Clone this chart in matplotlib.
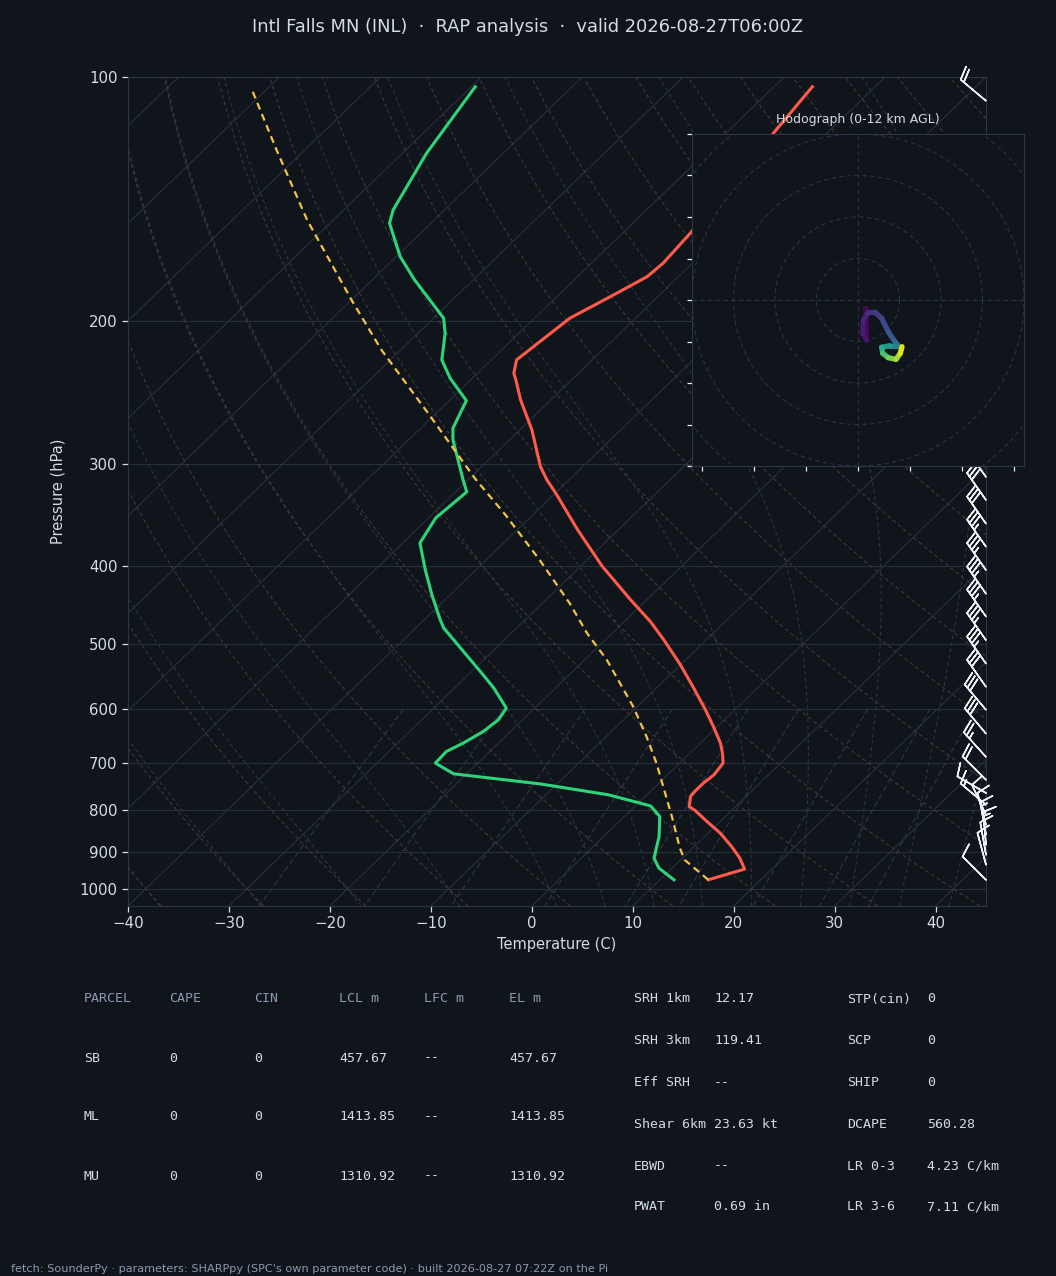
import numpy as np
import matplotlib
matplotlib.use("Agg")
import matplotlib.pyplot as plt
import matplotlib.transforms as mtransforms
from matplotlib.collections import LineCollection
from matplotlib.ticker import NullLocator

# colours
BG = "#10151c"
GRID = "#26303b"
SPINE = "#2c3643"
TXT = "#d5dbe2"
DIM = "#8b9ab0"

# sounding (hPa, degC)
t_pres = [974.8, 945.7, 916.6, 887.0, 853.9, 826.3, 800.9, 791.9, 769.7, 761.0,
          741.0, 723.7, 700.1, 681.9, 661.6, 631.2, 602.0, 565.9, 529.8, 493.6,
          468.7, 440.6, 400.3, 361.4, 325.3, 313.5, 301.9, 272.1, 249.9, 236.2,
          231.7, 223.1, 198.2, 186.5, 176.2, 169.6, 155.1, 117.3, 102.8]
t_temp = [14.8, 17.3, 15.7, 13.7, 11.2, 8.7, 6.4, 5.4, 4.5, 4.4,
          4.4, 4.6, 4.3, 3.3, 2.0, -0.4, -2.9, -6.3, -10.0, -14.2,
          -17.4, -21.6, -27.9, -34.0, -40.0, -42.2, -44.2, -48.8, -53.0, -55.5,
          -56.4, -57.5, -56.5, -54.7, -53.1, -52.9, -53.3, -55.3, -56.2]

td_pres = [974.8, 942.9, 916.6, 862.5, 814.5, 790.4, 766.0, 742.6, 721.7, 700.1,
           677.5, 661.6, 640.2, 619.4, 599.1, 565.9, 545.2, 477.5, 466.4, 434.4,
           404.8, 375.0, 349.2, 324.4, 313.5, 279.9, 270.8, 250.4, 235.0, 223.1,
           206.9, 198.2, 177.8, 166.5, 151.4, 145.8, 124.2, 102.8]
td_dwpt = [11.4, 8.7, 7.2, 5.5, 3.5, 1.5, -3.8, -11.7, -21.3, -24.2,
           -24.3, -23.5, -22.7, -22.4, -22.8, -26.1, -28.5, -37.2, -38.4, -41.8,
           -45.0, -48.3, -49.3, -48.9, -50.5, -55.6, -56.8, -58.3, -62.2, -64.9,
           -67.3, -69.0, -75.8, -79.6, -84.1, -85.1, -87.6, -89.6]

parcel_pres = [974.8, 921.0, 890.3, 814.5, 700.1, 649.4, 596.4, 522.4, 484.3, 444.8,
               393.5, 346.3, 312.1, 259.5, 216.9, 188.2, 150.0, 123.0, 103.3]
parcel_temp = [14.8, 10.4, 8.7, 4.7, -2.3, -6.0, -10.4, -17.8, -22.5, -27.3,
               -34.7, -42.7, -49.5, -60.8, -71.9, -80.0, -92.6, -102.8, -111.6]

# wind barbs (hPa, deg, kt)
barb_pres = [107, 311, 332, 355, 379, 405, 433, 462, 494, 528, 564, 602,
             644, 688, 734, 762, 788, 811, 834, 858, 883, 908, 934, 975]
barb_dir = [310, 325, 325, 325, 325, 325, 325, 325, 325, 325, 325, 320,
            320, 318, 315, 300, 310, 335, 345, 350, 355, 350, 345, 315]
barb_spd = [20, 30, 30, 32, 33, 33, 35, 35, 33, 33, 32, 30,
            28, 25, 20, 10, 15, 12, 12, 13, 13, 12, 10, 10]

# hodograph trace (kt) and height (km AGL)
hodo_u = [3.7, 4.2, 2.3, 2.6, 5.0, 8.2, 11.4, 14.6, 17.8, 19.4, 15.4, 11.4, 11.9, 14.6, 18.3, 20.4, 21.2]
hodo_v = [-4.0, -19.3, -16.0, -9.6, -5.9, -5.9, -8.8, -15.3, -20.1, -22.0, -22.0, -22.8, -25.7, -27.8, -28.6, -25.7, -22.5]
hodo_z = [0.0, 0.4, 0.7, 1.0, 1.4, 1.8, 2.3, 2.9, 3.6, 4.6, 6.0, 7.0, 8.0, 9.0, 10.0, 11.0, 12.0]

parcel_header = ["PARCEL", "CAPE", "CIN", "LCL m", "LFC m", "EL m"]
parcel_rows = [["SB", "0", "0", "457.67", "--", "457.67"],
               ["ML", "0", "0", "1413.85", "--", "1413.85"],
               ["MU", "0", "0", "1310.92", "--", "1310.92"]]
params_a = [("SRH 1km", "12.17"), ("SRH 3km", "119.41"), ("Eff SRH", "--"),
            ("Shear 6km", "23.63 kt"), ("EBWD", "--"), ("PWAT", "0.69 in")]
params_b = [("STP(cin)", "0"), ("SCP", "0"), ("SHIP", "0"),
            ("DCAPE", "560.28"), ("LR 0-3", "4.23 C/km"), ("LR 3-6", "7.11 C/km")]

title = "Intl Falls MN (INL)  \u00b7  RAP analysis  \u00b7  valid 2026-08-27T06:00Z"
footer = ("fetch: SounderPy \u00b7 parameters: SHARPpy (SPC's own parameter code) \u00b7 "
          "built 2026-08-27 07:22Z on the Pi")

P_BOT, P_TOP = 1050.0, 100.0
T_LEFT, T_RIGHT = -40.0, 45.0


def skew(t, p):
    p = np.asarray(p, float)
    return np.asarray(t, float) + (T_RIGHT - T_LEFT) * np.log(P_BOT / p) / np.log(P_BOT / P_TOP)


def dtdp(p, t):
    Rd, Cp, Lv, eps = 287.04, 1005.7, 2.501e6, 0.622
    es = 6.112 * np.exp(17.67 * (t - 273.15) / (t - 29.65))
    rs = eps * es / (p - es)
    return (Rd * t + Lv * rs) / (Cp + Lv * Lv * rs * eps / (Rd * t * t)) / p


def moist_curve(t0c):
    def run(ps):
        t = t0c + 273.15
        out = [t]
        for a, b in zip(ps[:-1], ps[1:]):
            h = b - a
            k1 = dtdp(a, t)
            k2 = dtdp(a + h / 2, t + h / 2 * k1)
            k3 = dtdp(a + h / 2, t + h / 2 * k2)
            k4 = dtdp(b, t + h * k3)
            t = t + h / 6 * (k1 + 2 * k2 + 2 * k3 + k4)
            out.append(t)
        return np.array(out)
    p_up = np.linspace(1000, 100, 181)
    p_dn = np.linspace(1000, 1050, 11)
    p = np.concatenate([p_dn[::-1], p_up[1:]])
    t = np.concatenate([run(p_dn)[::-1], run(p_up)[1:]]) - 273.15
    return p, t


plt.rcParams["font.family"] = ["DejaVu Sans"]
fig = plt.figure(figsize=(10.56, 12.76), dpi=100, facecolor=BG)

W, H = 1056.0, 1276.0
ax = fig.add_axes([128 / W, 1 - 906 / H, 858 / W, 829 / H], facecolor=BG)
ax.set_yscale("log")
ax.set_ylim(P_BOT, P_TOP)
ax.set_xlim(T_LEFT, T_RIGHT)

# isobars
for p in range(100, 1001, 100):
    ax.axhline(p, color=GRID, lw=0.8, zorder=1)
# isotherms
for t in range(-130, 50, 10):
    ax.plot(skew([t, t], [P_BOT, P_TOP]), [P_BOT, P_TOP], color="#28313c", lw=0.8, zorder=1)
# dry adiabats
pp = np.linspace(P_BOT, P_TOP, 100)
for t0 in np.arange(-40, 246, 10):
    tt = (t0 + 273.15) * (pp / 1000.0) ** 0.2857 - 273.15
    ax.plot(skew(tt, pp), pp, color="#4a3c2e", lw=0.7, ls=(0, (4, 3)), zorder=1)
# moist adiabats
for t0 in list(range(-40, 0, 10)) + list(range(0, 46, 5)):
    mp, mt = moist_curve(t0)
    ax.plot(skew(mt, mp), mp, color="#2d3a40", lw=0.7, ls=(0, (4, 3)), zorder=1)
# mixing ratio lines
pm = np.linspace(600, P_BOT, 30)
for w in [0.0004, 0.001, 0.002, 0.004, 0.007, 0.01, 0.016, 0.024, 0.032]:
    e = pm * w / (0.622 + w)
    lg = np.log(e / 6.112)
    tdm = 243.5 * lg / (17.67 - lg)
    ax.plot(skew(tdm, pm), pm, color="#2a3946", lw=0.8, ls=(0, (5, 3)), zorder=1)

# profiles
ax.plot(skew(t_temp, t_pres), t_pres, color="#ff5a4a", lw=2.2, zorder=4, solid_joinstyle="round")
ax.plot(skew(td_dwpt, td_pres), td_pres, color="#2ed47a", lw=2.2, zorder=4, solid_joinstyle="round")
ax.plot(skew(parcel_temp, parcel_pres), parcel_pres, color="#f2c443", lw=1.6,
        ls=(0, (3.2, 2.2)), zorder=4)

# barbs along the right edge
bd = np.radians(barb_dir)
bu = -np.array(barb_spd) * np.sin(bd)
bv = -np.array(barb_spd) * np.cos(bd)
blend = mtransforms.blended_transform_factory(ax.transAxes, ax.transData)
ax.barbs(np.ones(len(barb_pres)), barb_pres, bu, bv, transform=blend, clip_on=False,
         length=6.9, color="#eef2f6", linewidth=1.1, zorder=3)

ax.set_yticks(range(100, 1001, 100))
ax.set_yticklabels([str(p) for p in range(100, 1001, 100)])
ax.yaxis.set_minor_locator(NullLocator())
ax.set_xticks(range(-40, 41, 10))
ax.tick_params(colors=TXT, labelsize=10.8, length=4, width=0.9)
for sp in ax.spines.values():
    sp.set_color(SPINE)
ax.set_xlabel("Temperature (C)", color=TXT, fontsize=10.5, labelpad=4)
ax.set_ylabel("Pressure (hPa)", color=TXT, fontsize=10.5, labelpad=10)

# hodograph inset
hx = fig.add_axes([692 / W, 1 - 466 / H, 332 / W, 332 / H], facecolor=BG, zorder=5)
hx.set_xlim(-80, 80)
hx.set_ylim(-80, 80)
ang = np.linspace(0, 2 * np.pi, 200)
for r in range(20, 101, 20):
    hx.plot(r * np.cos(ang), r * np.sin(ang), color="#2a3441", lw=0.8, ls=(0, (4, 3)))
hx.axhline(0, color="#2a3441", lw=0.8, ls=(0, (4, 3)))
hx.axvline(0, color="#2a3441", lw=0.8, ls=(0, (4, 3)))
pts = np.column_stack([hodo_u, hodo_v])
segs = np.stack([pts[:-1], pts[1:]], axis=1)
zmid = (np.array(hodo_z[:-1]) + np.array(hodo_z[1:])) / 2
lc = LineCollection(segs, cmap="viridis", norm=plt.Normalize(0, 12), linewidths=3.8,
                    capstyle="round", joinstyle="round")
lc.set_array(zmid)
hx.add_collection(lc)
hx.set_xticks(range(-75, 76, 25))
hx.set_yticks(range(-80, 81, 20))
hx.set_xticklabels([])
hx.set_yticklabels([])
hx.tick_params(colors="#e8edf2", length=3.5, width=0.9)
for sp in hx.spines.values():
    sp.set_color(SPINE)
fig.text(858 / W, 1 - 120 / H, "Hodograph (0-12 km AGL)", color=TXT, fontsize=9,
         ha="center", va="center", zorder=6)

fig.text(0.5, 1 - 27 / H, title, color=TXT, fontsize=12.9, ha="center", va="center")

# parameter tables
mono = "DejaVu Sans Mono"
col_x = [84, 169, 254, 339, 424, 509]
for cx, h in zip(col_x, parcel_header):
    fig.text(cx / W, 1 - 999 / H, h, family=mono, fontsize=9.5, color=DIM, va="center")
for ry, row in zip([1058, 1117, 1176], parcel_rows):
    for cx, v in zip(col_x, row):
        fig.text(cx / W, 1 - ry / H, v, family=mono, fontsize=9.5, color=TXT, va="center")
row_y = [999, 1041, 1083, 1124, 1166, 1207]
for ry, (lab, val) in zip(row_y, params_a):
    fig.text(634 / W, 1 - ry / H, lab, family=mono, fontsize=9.5, color=TXT, va="center")
    fig.text(714 / W, 1 - ry / H, val, family=mono, fontsize=9.5, color=TXT, va="center")
for ry, (lab, val) in zip(row_y, params_b):
    fig.text(847 / W, 1 - ry / H, lab, family=mono, fontsize=9.5, color=TXT, va="center")
    fig.text(927 / W, 1 - ry / H, val, family=mono, fontsize=9.5, color=TXT, va="center")

fig.text(11 / W, 1 - 1269 / H, footer, color=DIM, fontsize=8.15, va="center")

fig.savefig("out.png", dpi=100, facecolor=BG)
